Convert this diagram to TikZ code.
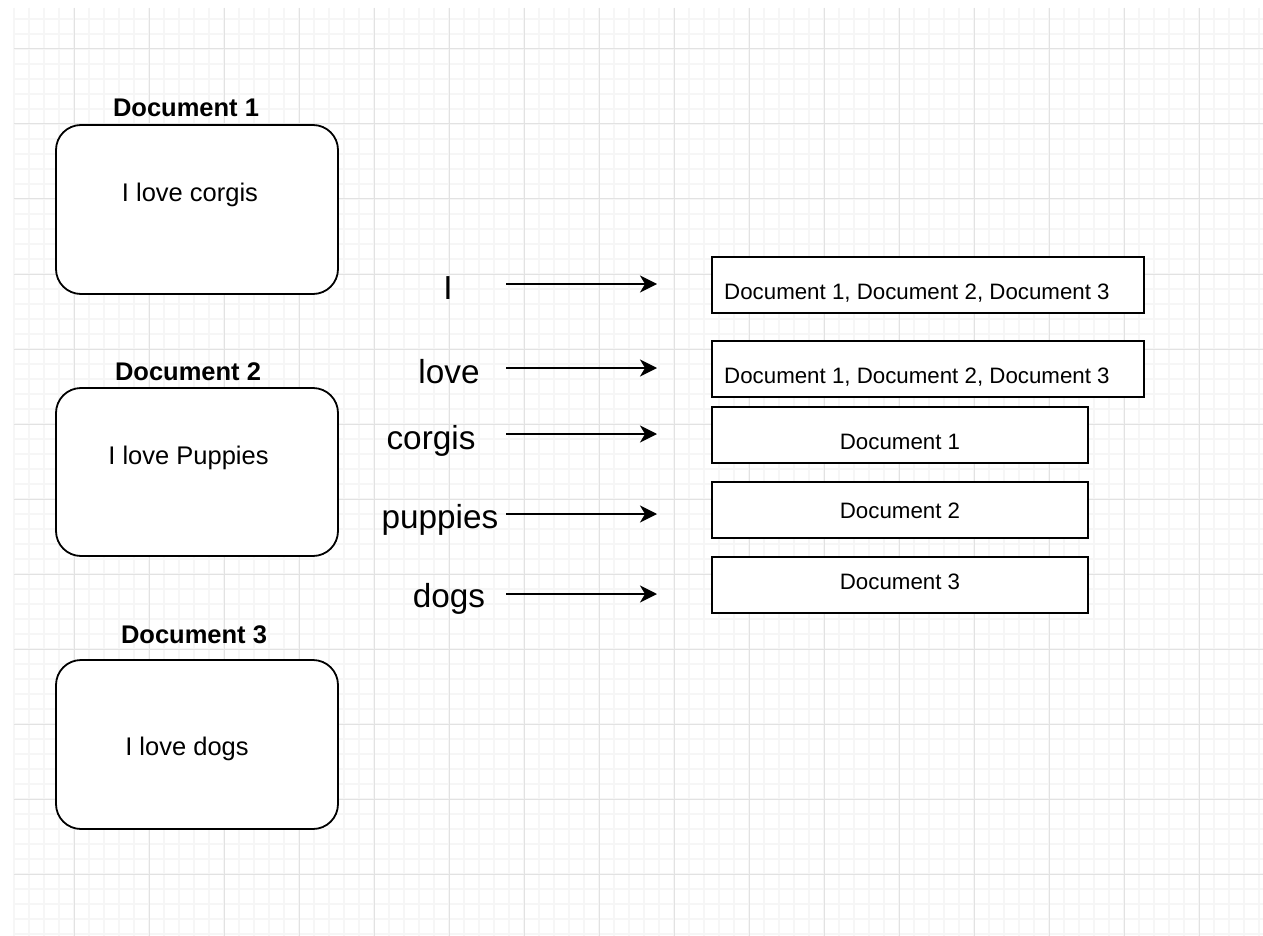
\documentclass[tikz,border=0pt]{standalone}
\usepackage{fontspec}
\setmainfont{Liberation Sans}
\usetikzlibrary{arrows.meta}
\definecolor{gridminor}{HTML}{F6F6F6}
\definecolor{gridmajor}{HTML}{E2E2E2}
\tikzset{
  docbox/.style={draw=black, line width=1.8pt, rounded corners=25pt, fill=white,
    minimum width=282pt, minimum height=169pt, inner sep=0pt},
  postbox/.style={draw=black, line width=1.8pt, fill=white, minimum height=56pt, inner sep=0pt},
  doctitle/.style={font=\fontsize{25.5}{30}\selectfont\bfseries, anchor=base, inner sep=0pt},
  doctext/.style={font=\fontsize{25.5}{30}\selectfont, anchor=base, inner sep=0pt},
  term/.style={font=\fontsize{33.3}{40}\selectfont, anchor=base, inner sep=0pt},
  posttext/.style={font=\fontsize{22.3}{27}\selectfont, inner sep=0pt},
  maplink/.style={line width=1.8pt, -{Stealth[length=17pt, width=17pt, inset=5pt]}},
}
\begin{document}
\begin{tikzpicture}[x=1pt, y=-1pt]
  % canvas
  \fill[white] (0,0) rectangle (1263,936);
  \useasboundingbox (0,0) rectangle (1263,936);

  % background grid
  \foreach \x in {14,29,...,1262} \draw[gridminor, line width=1.2pt] (\x,8) -- (\x,936);
  \foreach \y in {19,34,...,935} \draw[gridminor, line width=1.2pt] (14,\y) -- (1263,\y);
  \foreach \x in {74,149,...,1262} \draw[gridmajor, line width=1pt] (\x,8) -- (\x,936);
  \foreach \y in {49,124,...,935} \draw[gridmajor, line width=1pt] (14,\y) -- (1263,\y);

  % documents
  \node[doctitle] (t1) at (186,117) {Document 1};
  \node[docbox] (d1) at (197,209.5) {};
  \node[doctext] (c1) at (190,202) {I love corgis};

  \node[doctitle] (t2) at (188,380) {Document 2};
  \node[docbox, minimum height=168pt] (d2) at (197,472) {};
  \node[doctext] (c2) at (188.5,464) {I love Puppies};

  \node[doctitle] (t3) at (194,643) {Document 3};
  \node[docbox] (d3) at (197,744.5) {};
  \node[doctext] (c3) at (187,755) {I love dogs};

  % terms
  \node[term] (wI) at (448,299) {I};
  \node[term] (wlove) at (449,383) {love};
  \node[term] (wcorgis) at (431,449) {corgis};
  \node[term] (wpuppies) at (440,528) {puppies};
  \node[term] (wdogs) at (449,607) {dogs};

  % posting lists
  \node[postbox, minimum width=432pt] (p1) at (928,285) {};
  \node[posttext, anchor=base west] (q1) at (724,299) {Document 1, Document 2, Document 3};
  \node[postbox, minimum width=432pt] (p2) at (928,369) {};
  \node[posttext, anchor=base west] (q2) at (724,383) {Document 1, Document 2, Document 3};
  \node[postbox, minimum width=376pt] (p3) at (900,435) {};
  \node[posttext, anchor=base] (q3) at (900,449) {Document 1};
  \node[postbox, minimum width=376pt] (p4) at (900,510) {};
  \node[posttext, anchor=base] (q4) at (900,518) {Document 2};
  \node[postbox, minimum width=376pt] (p5) at (900,585) {};
  \node[posttext, anchor=base] (q5) at (900,589) {Document 3};

  % arrow ends
  \coordinate (sI) at (506,284);      \coordinate (eI) at (657,284);
  \coordinate (slove) at (506,368);   \coordinate (elove) at (657,368);
  \coordinate (scorgis) at (506,434); \coordinate (ecorgis) at (657,434);
  \coordinate (spup) at (506,514);    \coordinate (epup) at (657,514);
  \coordinate (sdogs) at (506,594);   \coordinate (edogs) at (657,594);

  \draw[maplink] (sI) -- (eI);
  \draw[maplink] (slove) -- (elove);
  \draw[maplink] (scorgis) -- (ecorgis);
  \draw[maplink] (spup) -- (epup);
  \draw[maplink] (sdogs) -- (edogs);
\end{tikzpicture}
\end{document}
